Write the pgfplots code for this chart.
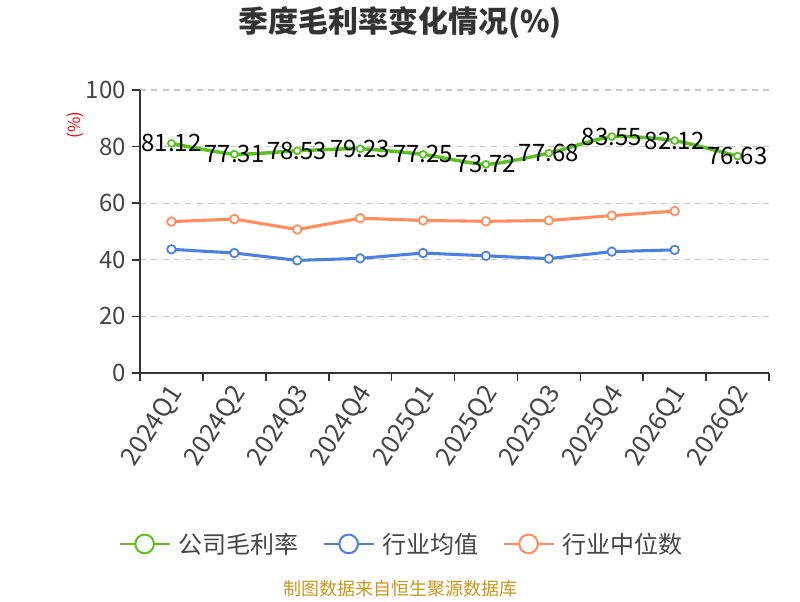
\documentclass[border=0pt]{standalone}
\usepackage{fontspec}
\setmainfont{Noto Sans CJK SC}
\usepackage{pgfplots}
\pgfplotsset{compat=1.18}
\definecolor{cg}{HTML}{5AC21E}
\definecolor{cb}{HTML}{4A80E2}
\definecolor{co}{HTML}{FF8C5A}
\definecolor{axisc}{HTML}{333333}
\definecolor{labelc}{HTML}{444444}
\definecolor{gridc}{HTML}{C8C8C8}
\definecolor{footc}{HTML}{C8961E}
\begin{document}
\begin{tikzpicture}[x=0.75pt,y=0.75pt]
\path (0,0) rectangle (800,600);
\begin{axis}[
  at={(105pt,170.25pt)}, anchor=south west,
  scale only axis, width=471.75pt, height=212.25pt,
  xmin=-0.5, xmax=9.5, ymin=0, ymax=100,
  axis x line=bottom, axis y line=left,
  axis line style={-, draw=axisc, line width=1.2pt},
  /pgf/number format/assume math mode=true,
  xtick={0,...,9},
  xticklabels={2024Q1,2024Q2,2024Q3,2024Q4,2025Q1,2025Q2,2025Q3,2025Q4,2026Q1,2026Q2},
  major x tick style={draw=none},
  minor xtick={-0.5,0.5,...,9.5},
  minor x tick style={draw=axisc, line width=1.2pt},
  minor tick length=6pt,
  ytick={0,20,...,100},
  major y tick style={draw=axisc, line width=1.2pt},
  major tick length=6pt,
  tick align=outside,
  ymajorgrids=true,
  grid style={draw=gridc, line width=0.9pt, dash pattern=on 4.5pt off 4pt},
  xticklabel style={rotate=57, anchor=east, font=\fontsize{19}{19}\selectfont, text=labelc, yshift=-7pt, xshift=1pt},
  yticklabel style={font=\fontsize{18}{18}\selectfont, text=labelc, xshift=-1pt},
  legend style={at={(0.4165,-0.604)}, anchor=center, draw=none, fill=none,
    font=\fontsize{18}{18}\selectfont, text=labelc,
    /tikz/every odd column/.append style={column sep=4pt},
    /tikz/every even column/.append style={column sep=16pt}},
  legend columns=3,
  clip=false,
]
\addplot[cg, line width=2.6pt, smooth, tension=0.35, mark=*, mark size=2.6pt,
  mark options={fill=white, draw=cg, line width=1.3pt, solid},
  nodes near coords={\pgfmathprintnumber[fixed,fixed zerofill,precision=2]{\pgfplotspointmeta}},
  nodes near coords style={font=\fontsize{18}{18}\selectfont, text=black, anchor=center},
  legend image code/.code={\draw[cg,line width=1.5pt] (0pt,0pt)--(37.5pt,0pt); \draw[cg,line width=1.5pt,fill=white] (18.75pt,0pt) circle (7pt);}
] coordinates {
(0,81.12) (1,77.31) (2,78.53) (3,79.23) (4,77.25) (5,73.72) (6,77.68) (7,83.55) (8,82.12) (9,76.63)
};
\addlegendentry{公司毛利率}
\addplot[cb, line width=2.3pt, mark=*, mark size=3.2pt,
  mark options={fill=white, draw=cb, line width=1.3pt, solid},
  legend image code/.code={\draw[cb,line width=1.5pt] (0pt,0pt)--(37.5pt,0pt); \draw[cb,line width=1.5pt,fill=white] (18.75pt,0pt) circle (7pt);}
] coordinates {
(0,43.7) (1,42.4) (2,39.8) (3,40.5) (4,42.4) (5,41.4) (6,40.4) (7,42.9) (8,43.5)
};
\addlegendentry{行业均值}
\addplot[co, line width=2.3pt, mark=*, mark size=3.2pt,
  mark options={fill=white, draw=co, line width=1.3pt, solid},
  legend image code/.code={\draw[co,line width=1.5pt] (0pt,0pt)--(37.5pt,0pt); \draw[co,line width=1.5pt,fill=white] (18.75pt,0pt) circle (7pt);}
] coordinates {
(0,53.5) (1,54.4) (2,50.7) (3,54.7) (4,53.9) (5,53.6) (6,53.9) (7,55.6) (8,57.2)
};
\addlegendentry{行业中位数}
\end{axis}
\node[font=\fontsize{22.5}{22.5}\selectfont\bfseries, text=axisc] at (400,577) {季度毛利率变化情况(\%)};
\node[font=\fontsize{12.5}{12.5}\selectfont, text=red, rotate=90] at (75,475) {(\%)};
\node[font=\fontsize{13.5}{13.5}\selectfont, text=footc] at (400,11) {制图数据来自恒生聚源数据库};
\end{tikzpicture}
\end{document}
